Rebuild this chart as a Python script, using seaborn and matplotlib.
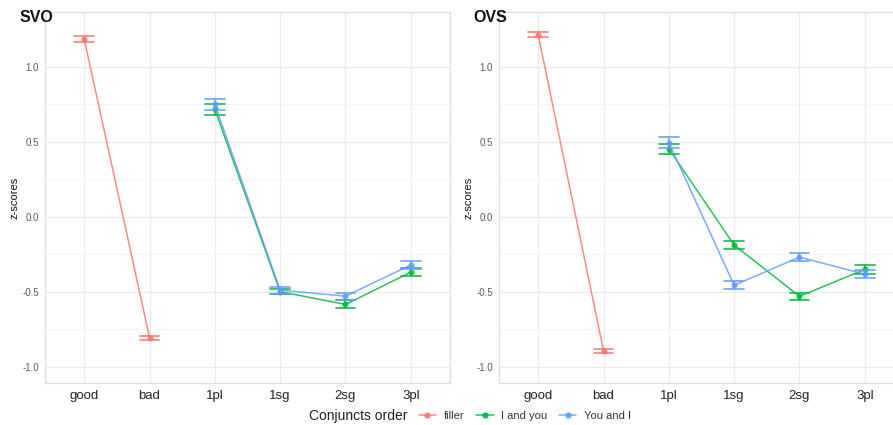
import numpy as np
import pandas as pd
import matplotlib
matplotlib.use("Agg")
import matplotlib.pyplot as plt
from matplotlib.lines import Line2D
import seaborn as sns

# ---- data ----
conditions = ["good", "bad", "1pl", "1sg", "2sg", "3pl"]
filler_conds = ["good", "bad"]
target_conds = ["1pl", "1sg", "2sg", "3pl"]
hue_levels = ["filler", "I and you", "You and I"]

svo_filler_mean = [1.185, -0.806]
svo_filler_err = [0.018, 0.013]
svo_iy_mean = [0.715, -0.500, -0.585, -0.370]
svo_iy_err = [0.037, 0.018, 0.027, 0.025]
svo_yi_mean = [0.749, -0.490, -0.530, -0.322]
svo_yi_err = [0.036, 0.024, 0.024, 0.027]

ovs_filler_mean = [1.214, -0.894]
ovs_filler_err = [0.015, 0.015]
ovs_iy_mean = [0.452, -0.189, -0.531, -0.352]
ovs_iy_err = [0.035, 0.029, 0.022, 0.030]
ovs_yi_mean = [0.494, -0.457, -0.270, -0.383]
ovs_yi_err = [0.036, 0.025, 0.028, 0.028]

y_ticks = [-1.0, -0.5, 0.0, 0.5, 1.0]
y_minor = [-0.75, -0.25, 0.25, 0.75]

palette = {"filler": "#F8766D", "I and you": "#00BA38", "You and I": "#619CFF"}


def build(parts):
    rows = []
    for order, conds, means, errs in parts:
        for c, m, e in zip(conds, means, errs):
            for v in (m - e, m, m + e):
                rows.append({"cond": c, "order": order, "z": v})
    return pd.DataFrame(rows)


svo_df = build([("filler", filler_conds, svo_filler_mean, svo_filler_err),
                ("I and you", target_conds, svo_iy_mean, svo_iy_err),
                ("You and I", target_conds, svo_yi_mean, svo_yi_err)])
ovs_df = build([("filler", filler_conds, ovs_filler_mean, ovs_filler_err),
                ("I and you", target_conds, ovs_iy_mean, ovs_iy_err),
                ("You and I", target_conds, ovs_yi_mean, ovs_yi_err)])

sns.set_theme(style="white")
plt.rcParams["font.family"] = ["Liberation Sans", "DejaVu Sans"]

W, H = 893, 425
fig = plt.figure(figsize=(W / 100, H / 100), dpi=100)

panel_w = 405 / W
panel_b = 1 - 383 / H
panel_h = 371 / H
ax1 = fig.add_axes([45 / W, panel_b, panel_w, panel_h])
ax2 = fig.add_axes([499 / W, panel_b, panel_w, panel_h])

for ax, df, title, tx in [(ax1, svo_df, "SVO", 20), (ax2, ovs_df, "OVS", 473)]:
    sns.pointplot(data=df, x="cond", y="z", hue="order", order=conditions,
                  hue_order=hue_levels, palette=palette, estimator="median",
                  errorbar=("pi", 100), capsize=0.3, dodge=False, legend=False,
                  markers="o", linestyles="-", markersize=3.5, linewidth=1.1,
                  err_kws={"linewidth": 1.3, "alpha": 0.75}, ax=ax)
    for ln in ax.lines:
        ln.set_alpha(0.85)
    ax.set_xlim(-0.6, 5.6)
    ax.set_ylim(-1.109, 1.365)
    ax.set_yticks(y_ticks)
    ax.set_yticklabels([f"{v:.1f}" for v in y_ticks])
    ax.set_yticks(y_minor, minor=True)
    ax.grid(True, which="major", axis="both", color="#EBEBEB", linewidth=0.9, zorder=0)
    ax.grid(True, which="minor", axis="y", color="#F4F4F4", linewidth=0.7, zorder=0)
    ax.set_axisbelow(True)
    for s in ax.spines.values():
        s.set_color("#DDDDDD")
        s.set_linewidth(0.9)
    ax.tick_params(axis="y", which="major", length=2.5, width=0.6, color="#AAAAAA",
                   labelsize=7, labelcolor="#5A5A5A", pad=2)
    ax.tick_params(axis="y", which="minor", length=0)
    ax.tick_params(axis="x", length=0, labelsize=9.5, labelcolor="#222222", pad=5)
    ax.set_xlabel("")
    ax.set_ylabel("z-scores", fontsize=8, color="#111111", labelpad=2)
    fig.text(tx / W, 1 - 17 / H, title, fontsize=11.5, fontweight="bold",
             ha="left", va="center", color="#111111")

# legend at bottom
fig.text(309 / W, 1 - 416 / H, "Conjuncts order", fontsize=10, ha="left",
         va="center", color="#222222")
handles = [Line2D([0], [0], color=palette[h], marker="o", markersize=3.5,
                  linewidth=1.1, alpha=0.85) for h in hue_levels]
fig.legend(handles, hue_levels, loc="center left", bbox_to_anchor=(413 / W, 1 - 416 / H),
           ncol=3, frameon=False, fontsize=8, handlelength=1.6, handletextpad=0.7,
           columnspacing=1.0, borderpad=0, labelcolor="#333333")

fig.savefig("out.png", dpi=100)
